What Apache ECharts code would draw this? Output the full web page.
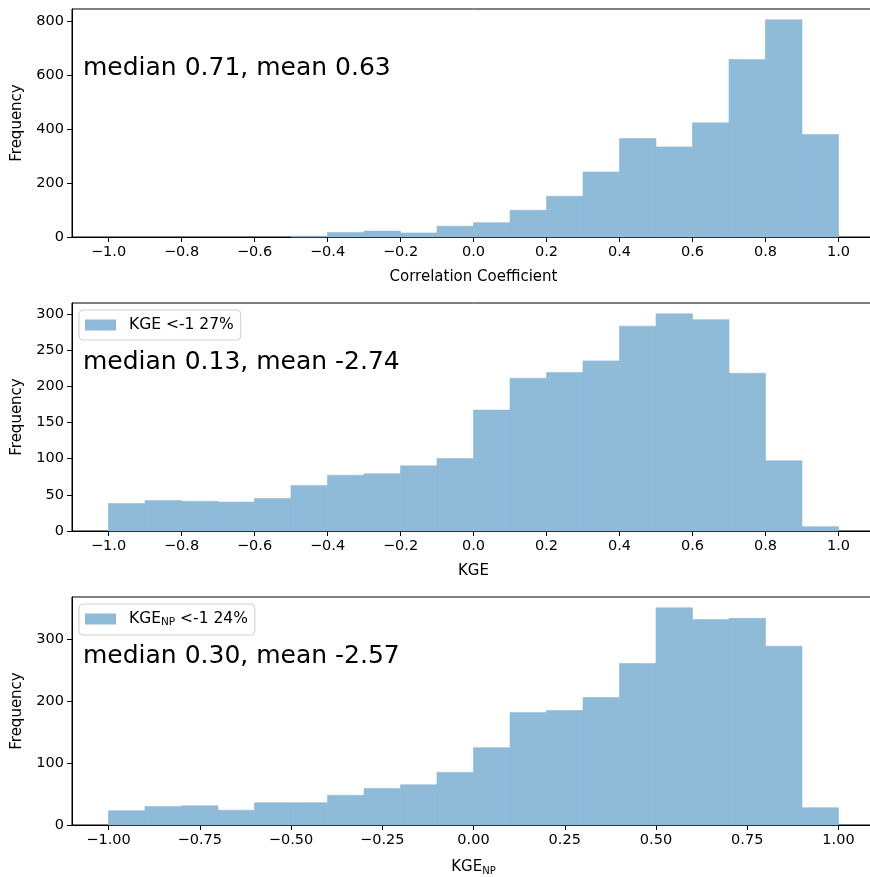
<!DOCTYPE html>
<html>
<head>
<meta charset="utf-8">
<script src="https://cdn.jsdelivr.net/npm/echarts@6/dist/echarts.min.js"></script>
<style>
  html, body { margin: 0; padding: 0; background: #fff; overflow: hidden; }
  #main { width: 880px; height: 877px; }
</style>
</head>
<body>
<div id="main"></div>
<script>
// bin edges shared by all three histograms
const binEdges = [-1.0, -0.9, -0.8, -0.7, -0.6, -0.5, -0.4, -0.3, -0.2, -0.1, 0.0,
                  0.1, 0.2, 0.3, 0.4, 0.5, 0.6, 0.7, 0.8, 0.9, 1.0];

// counts per bin
const corrCounts = [0, 0, 0, 0, 0, 3, 17, 22, 15, 40, 53, 99, 151, 241, 365, 334, 423, 658, 805, 380];
const kgeCounts = [38, 42, 41, 40, 45, 63, 77, 79, 90, 100, 167, 211, 219, 235, 283, 300, 292, 218, 97, 6];
const kgenpCounts = [23, 30, 31, 24, 36, 36, 48, 59, 65, 85, 125, 182, 185, 206, 261, 351, 332, 334, 289, 28];

// tick labels
const xTicksTenths = [-1.0, -0.8, -0.6, -0.4, -0.2, 0.0, 0.2, 0.4, 0.6, 0.8, 1.0];
const xTicksQuarters = [-1.0, -0.75, -0.5, -0.25, 0.0, 0.25, 0.5, 0.75, 1.0];
const yTicksCorr = [0, 200, 400, 600, 800];
const yTicksKge = [0, 50, 100, 150, 200, 250, 300];
const yTicksKgenp = [0, 100, 200, 300];

const statTexts = ['median 0.71, mean 0.63', 'median 0.13, mean -2.74', 'median 0.30, mean -2.57'];
const legendNames = ['Correlation', 'KGE <-1 27%', 'KGE_NP <-1 24%'];

const barColor = '#8fbbd9';
const font = 'DejaVu Sans';

function toBins(counts) {
  return counts.map((c, i) => [binEdges[i], binEdges[i + 1], c]);
}

function fmt(v, digits) {
  let s = Math.abs(v).toFixed(digits);
  return v < 0 ? '\u2212' + s : s;
}

function renderItem(params, api) {
  if (!api.value(2)) return null; // empty bin, nothing to draw
  let p0 = api.coord([api.value(0), api.value(2)]);
  let p1 = api.coord([api.value(1), 0]);
  return {
    type: 'rect',
    shape: { x: p0[0], y: p0[1], width: p1[0] - p0[0], height: p1[1] - p0[1] },
    style: { fill: barColor, stroke: barColor, lineWidth: 0.6 }
  };
}

const gridTops = [9, 303, 597];
const gridH = 228;

let myChart = echarts.init(document.getElementById('main'));

function xAxisFor(idx, ticks, digits, name) {
  return {
    type: 'value', gridIndex: idx, min: -1.1, max: 1.1,
    name: name, nameLocation: 'middle', nameGap: 33,
    nameTextStyle: { fontFamily: font, fontSize: 15, color: '#000',
      rich: { a: { fontFamily: font, fontSize: 15, color: '#000' },
              s: { fontFamily: font, fontSize: 10, color: '#000', padding: [8, 0, 0, 0] } } },
    axisLine: { show: true, onZero: false, lineStyle: { color: '#000', width: 1 } },
    axisTick: { show: true, length: 5, customValues: ticks, lineStyle: { color: '#000' } },
    axisLabel: { customValues: ticks, formatter: v => fmt(v, digits),
      fontFamily: font, fontSize: 14.5, color: '#000', margin: 8 },
    splitLine: { show: false }
  };
}

function yAxisFor(idx, ticks, max) {
  return {
    type: 'value', gridIndex: idx, min: 0, max: max,
    name: 'Frequency', nameLocation: 'middle', nameGap: 47,
    nameTextStyle: { fontFamily: font, fontSize: 15, color: '#000' },
    axisLine: { show: true, onZero: false, lineStyle: { color: '#000', width: 1 } },
    axisTick: { show: true, length: 5, customValues: ticks, lineStyle: { color: '#000' } },
    axisLabel: { customValues: ticks, formatter: v => String(v),
      fontFamily: font, fontSize: 14.5, color: '#000', margin: 8 },
    splitLine: { show: false }
  };
}

function legendFor(idx, name) {
  return {
    show: true, data: [name], left: 79, top: gridTops[idx] + 7,
    orient: 'vertical', icon: 'rect', itemWidth: 31, itemHeight: 11, itemGap: 5,
    padding: [7, 7, 7, 6],
    backgroundColor: 'rgba(255,255,255,0.8)', borderColor: '#d0d0d0', borderWidth: 1, borderRadius: 4,
    selectedMode: false,
    formatter: n => n === 'KGE_NP <-1 24%' ? '{p|}{a|KGE}{s|NP}{a| <-1 24%}' : '{p|}{a|' + n + '}',
    textStyle: { fontFamily: font, fontSize: 15.5, color: '#000', lineHeight: 15,
      rich: { p: { width: 8 },
              a: { fontFamily: font, fontSize: 15.5, color: '#000', lineHeight: 15 },
              s: { fontFamily: font, fontSize: 10.5, color: '#000', padding: [7, 0, 0, 0] } } }
  };
}

const allCounts = [corrCounts, kgeCounts, kgenpCounts];

myChart.setOption({
  backgroundColor: '#fff',
  animation: false,
  grid: gridTops.map(t => ({
    left: 72, top: t, width: 803, height: gridH,
    show: true, borderColor: '#000', borderWidth: 1, backgroundColor: 'transparent'
  })),
  xAxis: [
    xAxisFor(0, xTicksTenths, 1, 'Correlation Coefficient'),
    xAxisFor(1, xTicksTenths, 1, 'KGE'),
    xAxisFor(2, xTicksQuarters, 2, '{a|KGE}{s|NP}')
  ],
  yAxis: [
    yAxisFor(0, yTicksCorr, 845),
    yAxisFor(1, yTicksKge, 315),
    yAxisFor(2, yTicksKgenp, 368.5)
  ],
  legend: [legendFor(1, legendNames[1]), legendFor(2, legendNames[2])],
  series: allCounts.map((counts, i) => ({
    type: 'custom', name: legendNames[i],
    xAxisIndex: i, yAxisIndex: i,
    renderItem: renderItem,
    itemStyle: { color: barColor },
    encode: { x: [0, 1], y: 2 },
    data: toBins(counts)
  })),
  graphic: statTexts.map((t, i) => ({
    type: 'text', left: 83, top: gridTops[i] + 47,
    style: { text: t, fontFamily: font, fontSize: 25, fill: '#000' }
  }))
});
</script>
</body>
</html>
